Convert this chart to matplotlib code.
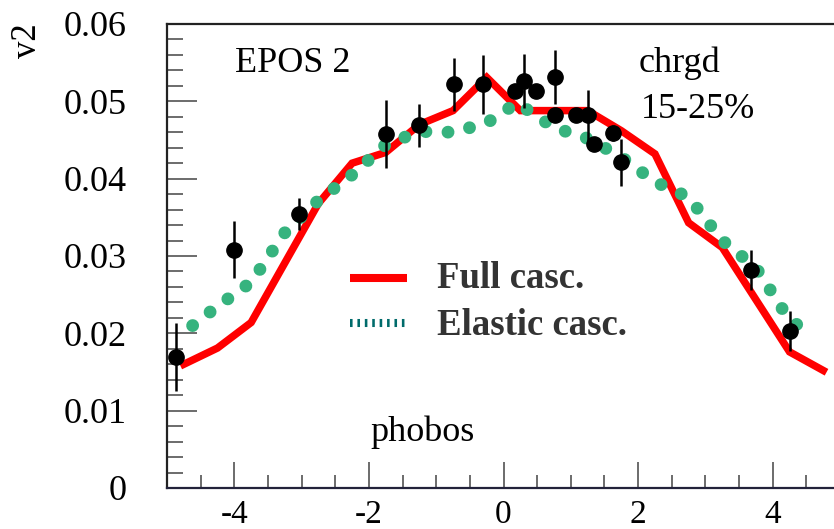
import numpy as np
import matplotlib
matplotlib.use("Agg")
import matplotlib.pyplot as plt

# EPOS 2, full cascade (red line)
full_x = [-4.75, -4.25, -3.75, -2.75, -2.25, -1.75, -1.25, -0.75, -0.25,
          0.25, 0.75, 1.25, 1.75, 2.25, 2.75, 3.25, 4.25, 4.75]
full_y = [0.0160, 0.0181, 0.0214, 0.0368, 0.0420, 0.0434, 0.0470, 0.0488, 0.0531,
          0.0488, 0.0488, 0.0488, 0.0462, 0.0432, 0.0343, 0.0311, 0.0176, 0.0152]

# EPOS 2, elastic cascade (green dots)
el_x = [-4.62, -4.25, -3.75, -3.25, -2.75, -2.25, -1.75, -1.25, -0.75, -0.25,
        0.2, 0.75, 1.25, 1.75, 2.25, 2.75, 3.25, 3.75, 4.25, 4.56]
el_y = [0.0210, 0.0235, 0.0266, 0.0330, 0.0372, 0.0405, 0.0444, 0.0461, 0.0460, 0.0472,
        0.0498, 0.0466, 0.0452, 0.0428, 0.0396, 0.0376, 0.0320, 0.0285, 0.0217, 0.0201]

# phobos data
ph_x = [-4.86, -4.0, -3.04, -1.74, -1.25, -0.74, -0.30, 0.17, 0.30, 0.48,
        0.77, 0.77, 1.07, 1.26, 1.34, 1.62, 1.75, 3.68, 4.26]
ph_y = [0.0170, 0.0308, 0.0354, 0.0458, 0.0469, 0.0522, 0.0522, 0.0513, 0.0526, 0.0513,
        0.0531, 0.0482, 0.0482, 0.0482, 0.0445, 0.0459, 0.0421, 0.0282, 0.0203]
ph_err = [0.0044, 0.0037, 0.0021, 0.0044, 0.0028, 0.0034, 0.0038, 0.0, 0.0035, 0.0,
          0.0035, 0.0, 0.0, 0.0033, 0.0, 0.0010, 0.0030, 0.0026, 0.0026]

serif = ["Liberation Serif", "DejaVu Serif"]
W, H = 834, 529

fig = plt.figure(figsize=(W / 100, H / 100), dpi=100)
ax = fig.add_axes([167 / W, 41 / H, 667 / W, 464 / H])

ax.plot(full_x, full_y, color="#ff0000", lw=5.4, solid_joinstyle="miter", zorder=2)
ax.plot(el_x, el_y, color="#36b37e", lw=9.2, linestyle=(0, (0.01, 1.72)),
        dash_capstyle="round", zorder=3)
ax.errorbar(ph_x, ph_y, yerr=ph_err, fmt="o", color="black", ms=11,
            elinewidth=1.8, capsize=0, zorder=4)

ax.set_xlim(-5, 4.91)
ax.set_ylim(0, 0.06)
ax.set_xticks([-4, -2, 0, 2, 4])
ax.set_xticks(np.arange(-4.5, 4.9, 0.5), minor=True)
ax.set_yticks(np.arange(0, 0.061, 0.01))
ax.set_yticks(np.arange(0, 0.061, 0.002), minor=True)
ax.set_yticklabels(["0", "0.01", "0.02", "0.03", "0.04", "0.05", "0.06"])
ax.set_xticklabels(["-4", "-2", "0", "2", "4"])

ax.tick_params(axis="y", which="major", direction="in", length=21.5, width=1.1,
               color="#444444", pad=29, labelsize=26)
ax.tick_params(axis="y", which="minor", direction="in", length=11.5, width=1.1,
               color="#444444")
ax.tick_params(axis="x", which="major", direction="in", length=18.5, width=1.1,
               color="#444444", pad=8, labelsize=24)
ax.tick_params(axis="x", which="minor", direction="in", length=9.5, width=1.1,
               color="#444444")
for lab in ax.get_xticklabels() + ax.get_yticklabels():
    lab.set_family(serif)

ax.spines["right"].set_visible(False)
ax.spines["left"].set_linewidth(1.6)
ax.spines["left"].set_color("#222222")
ax.spines["bottom"].set_linewidth(1.6)
ax.spines["bottom"].set_color("#22223a")
ax.spines["top"].set_linewidth(1.6)
ax.spines["top"].set_color("#222222")


def fx(px):
    return px / W


def fy(py):
    return 1 - py / H


txt = dict(family=serif, fontsize=26, color="black", va="baseline", ha="left")
fig.text(fx(235), fy(72), "EPOS 2", **txt)
fig.text(fx(639), fy(72), "chrgd", **txt)
fig.text(fx(641), fy(118), "15-25%", **txt)
fig.text(fx(370), fy(441), "phobos", **txt)
fig.text(fx(44), fy(23), "v2", family=serif, fontsize=25, rotation=90,
         ha="right", va="top")

# legend
leg = dict(family=serif, fontsize=26.5, fontweight="bold", color="#333333",
           va="baseline", ha="left")
fig.text(fx(437), fy(288), "Full casc.", **leg)
fig.text(fx(437), fy(335), "Elastic casc.", **leg)
ax.plot([fx(350), fx(407)], [fy(278), fy(278)], transform=fig.transFigure,
        color="#ff0000", lw=5.8, solid_capstyle="butt", clip_on=False)
ax.plot([fx(350), fx(407)], [fy(323), fy(323)], transform=fig.transFigure,
        color="#006b6b", lw=5.8, linestyle=(0, (0.32, 0.6)),
        dash_capstyle="butt", clip_on=False)

fig.savefig("out.png", dpi=100)
